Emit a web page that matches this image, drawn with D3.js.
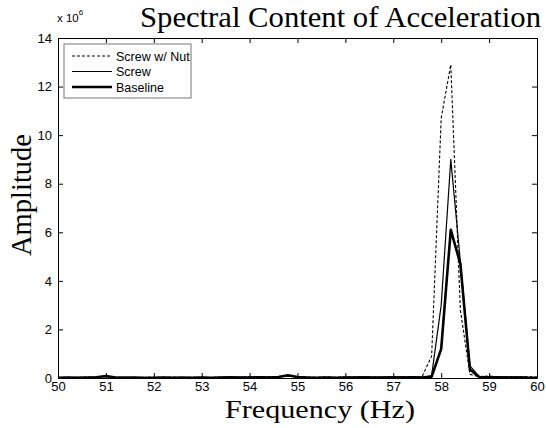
<!DOCTYPE html>
<html>
<head>
<meta charset="utf-8">
<script src="https://cdn.jsdelivr.net/npm/d3@7"></script>
<style>
    body { margin: 0; background: #fff; }
</style>
</head>
<body>
<div id="chart-area"></div>
<script>
// frequency bins (Hz)
var freq = [50.0, 50.2, 50.4, 50.6, 50.8, 51.0, 51.2, 51.4, 51.6, 51.8,
    52.0, 52.2, 52.4, 52.6, 52.8, 53.0, 53.2, 53.4, 53.6, 53.8,
    54.0, 54.2, 54.4, 54.6, 54.8, 55.0, 55.2, 55.4, 55.6, 55.8,
    56.0, 56.2, 56.4, 56.6, 56.8, 57.0, 57.2, 57.4, 57.6, 57.8,
    58.0, 58.2, 58.4, 58.6, 58.8, 59.0, 59.2, 59.4, 59.6, 59.8, 60.0];
// amplitudes, x 10^6
var screwNut = [0.02, 0.03, 0.02, 0.04, 0.03, 0.06, 0.03, 0.02, 0.03, 0.02,
    0.03, 0.02, 0.04, 0.02, 0.03, 0.02, 0.02, 0.03, 0.04, 0.03,
    0.05, 0.04, 0.06, 0.05, 0.07, 0.05, 0.04, 0.03, 0.04, 0.03,
    0.04, 0.03, 0.05, 0.04, 0.03, 0.05, 0.04, 0.06, 0.05, 0.9,
    10.7, 12.9, 2.8, 0.15, 0.06, 0.08, 0.05, 0.06, 0.04, 0.05, 0.03];
var screw = [0.02, 0.02, 0.03, 0.02, 0.04, 0.07, 0.03, 0.04, 0.02, 0.02,
    0.02, 0.03, 0.02, 0.02, 0.02, 0.03, 0.02, 0.03, 0.02, 0.03,
    0.03, 0.04, 0.03, 0.04, 0.09, 0.04, 0.03, 0.02, 0.03, 0.02,
    0.03, 0.04, 0.03, 0.02, 0.04, 0.03, 0.05, 0.03, 0.03, 0.1,
    3.0, 9.0, 4.8, 0.5, 0.05, 0.06, 0.04, 0.03, 0.05, 0.03, 0.02];
var baseline = [0.01, 0.02, 0.01, 0.02, 0.03, 0.08, 0.02, 0.01, 0.02, 0.01,
    0.01, 0.02, 0.01, 0.02, 0.01, 0.02, 0.01, 0.02, 0.03, 0.02,
    0.02, 0.03, 0.02, 0.04, 0.11, 0.04, 0.02, 0.01, 0.02, 0.01,
    0.02, 0.02, 0.03, 0.02, 0.02, 0.03, 0.02, 0.03, 0.02, 0.05,
    1.2, 6.1, 4.7, 0.35, 0.03, 0.02, 0.03, 0.02, 0.02, 0.01, 0.01];
var xTicks = [50, 51, 52, 53, 54, 55, 56, 57, 58, 59, 60];
var yTicks = [0, 2, 4, 6, 8, 10, 12, 14];
var seriesNames = ["Screw w/ Nut", "Screw", "Baseline"];

var margin = {
    left: 58,
    right: 9,
    top: 38,
    bottom: 50
};
var width = 546 - margin.left - margin.right;
var height = 428 - margin.top - margin.bottom;
var svg = d3.select("#chart-area").append("svg")
    .attr("width", 546)
    .attr("height", 428);
var g = svg.append("g")
    .attr("transform", "translate(" + margin.left + ", " + margin.top + ")");

var x = d3.scaleLinear()
    .domain([50, 60])
    .range([0, width]);
var y = d3.scaleLinear()
    .domain([0, 14])
    .range([height, 0]);

// box + inward ticks on all four sides
var xAxis = d3.axisBottom(x).tickValues(xTicks).tickSizeInner(-5).tickSizeOuter(0).tickPadding(4);
var yAxis = d3.axisLeft(y).tickValues(yTicks).tickSizeInner(-5).tickSizeOuter(0).tickPadding(6);
g.append("g")
    .attr("class", "x-axis")
    .attr("transform", "translate(0, " + height + ")")
    .call(xAxis);
g.append("g")
    .attr("class", "y-axis")
    .call(yAxis);
g.append("g")
    .call(d3.axisTop(x).tickValues(xTicks).tickSizeInner(-5).tickSizeOuter(0).tickFormat(""));
g.append("g")
    .attr("transform", "translate(" + width + ", 0)")
    .call(d3.axisRight(y).tickValues(yTicks).tickSizeInner(-5).tickSizeOuter(0).tickFormat(""));
g.selectAll(".domain").attr("stroke", "#000");
g.selectAll(".tick line").attr("stroke", "#000");
g.selectAll(".tick text")
    .attr("font-family", "Liberation Sans, Arial, sans-serif")
    .attr("font-size", "13px")
    .attr("fill", "#000");

// exponent label
var expo = svg.append("text")
    .attr("x", 57)
    .attr("y", 22)
    .attr("font-family", "Liberation Sans, Arial, sans-serif")
    .attr("font-size", "11.5px");
expo.append("tspan").text("x 10");
expo.append("tspan").attr("dy", -7).attr("font-size", "8px").text("6");

// lines
var line = function(vals) {
    return d3.line()
        .x((d, i) => x(freq[i]))
        .y((d) => y(d))(vals);
};
var styles = [
    { data: screwNut, w: 1.1, dash: "3,2" },
    { data: screw, w: 1.2, dash: null },
    { data: baseline, w: 2.6, dash: null }
];
styles.forEach((s) => {
    g.append("path")
        .attr("d", line(s.data))
        .attr("fill", "none")
        .attr("stroke", "#000")
        .attr("stroke-width", s.w)
        .attr("stroke-linejoin", "round")
        .attr("stroke-dasharray", s.dash);
});

// legend
var lg = svg.append("g").attr("transform", "translate(64, 44)");
lg.append("rect")
    .attr("width", 127)
    .attr("height", 54)
    .attr("fill", "#fff")
    .attr("stroke", "#8c8c8c")
    .attr("stroke-width", 1.2);
styles.forEach((s, i) => {
    var yy = 12 + i * 15.5;
    lg.append("line")
        .attr("x1", 8).attr("x2", 48)
        .attr("y1", yy).attr("y2", yy)
        .attr("stroke", "#000")
        .attr("stroke-width", s.w)
        .attr("stroke-dasharray", s.dash);
    lg.append("text")
        .attr("x", 52)
        .attr("y", yy + 4.5)
        .attr("font-family", "Liberation Sans, Arial, sans-serif")
        .attr("font-size", "12.5px")
        .text(seriesNames[i]);
});

// title and axis labels
svg.append("text")
    .attr("x", 140)
    .attr("y", 27)
    .attr("font-family", "Liberation Serif, Times New Roman, serif")
    .attr("font-size", "29px")
    .attr("textLength", 401)
    .attr("lengthAdjust", "spacingAndGlyphs")
    .text("Spectral Content of Acceleration");
svg.append("text")
    .attr("x", 320)
    .attr("y", 418)
    .attr("text-anchor", "middle")
    .attr("font-family", "Liberation Serif, Times New Roman, serif")
    .attr("font-size", "26px")
    .attr("textLength", 190)
    .attr("lengthAdjust", "spacingAndGlyphs")
    .text("Frequency (Hz)");
svg.append("text")
    .attr("x", -195)
    .attr("y", 31)
    .attr("text-anchor", "middle")
    .attr("transform", "rotate(-90)")
    .attr("font-family", "Liberation Serif, Times New Roman, serif")
    .attr("font-size", "29px")
    .attr("textLength", 122)
    .attr("lengthAdjust", "spacingAndGlyphs")
    .text("Amplitude");
</script>
</body>
</html>
